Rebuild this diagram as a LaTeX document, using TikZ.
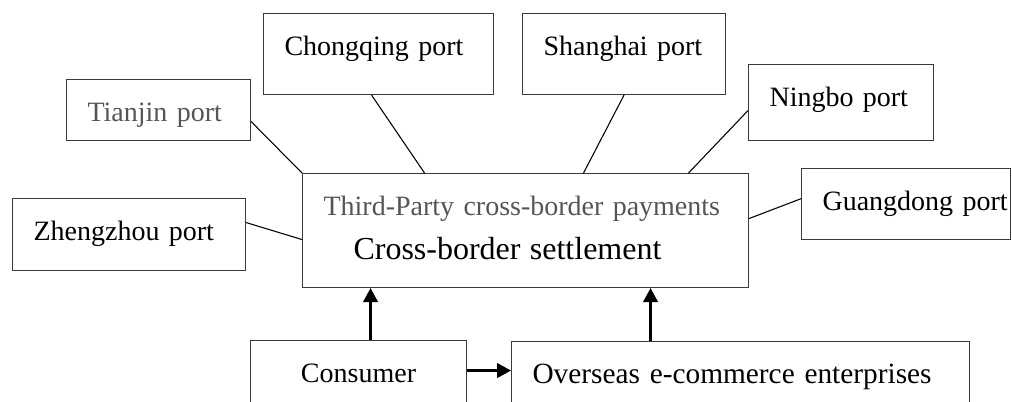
\documentclass[tikz,border=0pt]{standalone}
\usepackage{fontspec}
\setmainfont{Liberation Serif}
\usepackage{xcolor}
\usepackage{tikz}
\usetikzlibrary{arrows.meta,calc,positioning}
\definecolor{boxline}{HTML}{3A3A3A}
\definecolor{softtext}{HTML}{555555}
\tikzset{%
	portbox/.style = {draw=boxline, line width=0.8pt, anchor=north west, inner xsep=15.75pt, inner ysep=0pt, align=left, text height=31.5pt, font=\fontsize{21}{25}\selectfont},
	link/.style    = {line width=0.8pt, black},
	arrow/.style   = {line width=1.6pt, -{Triangle[length=10.5pt,width=11pt]}},
}
\begin{document}
\begin{tikzpicture}[x=0.75pt,y=-0.75pt]
	\clip (0,0) rectangle (1012,401);  % page frame
	
	\node[portbox, text width=106.5pt, text depth=14.25pt] (tianjin) at (66,79) {\color{softtext}Tianjin port};
	\node[portbox, text width=143.25pt, text depth=22.5pt] (zhengzhou) at (12,198) {Zhengzhou port};
	\node[portbox, text width=141pt, text depth=29.25pt] (chongqing) at (263,13) {Chongqing port};
	\node[portbox, text width=120.75pt, text depth=29.25pt] (shanghai) at (522,13) {Shanghai port};
	\node[portbox, text width=107.25pt, text depth=25.5pt] (ningbo) at (748,64) {Ningbo port};
	\node[portbox, text width=125.25pt, text depth=21.75pt] (guangdong) at (801,168) {\mbox{Guangdong port}};
	
	\node[portbox, text width=303pt, text depth=54pt] (central) at (302,173)
		{{\color{softtext}Third-Party cross-border payments}\\[8pt]
		 \fontsize{24}{33}\selectfont\hspace*{22.5pt}Cross-border settlement};
	
	\node[portbox, align=center, text width=130.5pt, text depth=28.5pt] (consumer) at (250,340) {Consumer};
	\node[portbox, text width=312pt, text depth=28.5pt, font=\fontsize{22}{26}\selectfont] (overseas) at (511,341) {Overseas e-commerce enterprises};
	
	% ports to settlement
	\draw[link] ([yshift=-8.6pt]tianjin.east) -- (central.north west);
	\draw[link] ([yshift=9pt]zhengzhou.east) -- ([yshift=-6.75pt]central.west);
	\draw[link] ([xshift=-5.25pt]chongqing.south) -- ([xshift=-75.75pt]central.north);
	\draw[link] (shanghai.south) -- ([xshift=43.5pt]central.north);
	\draw[link] ([yshift=-6pt]ningbo.west) -- ([xshift=122.25pt]central.north);
	\draw[link] ([yshift=4pt]guangdong.west) -- ([yshift=9pt]central.east);
	
	% payment flows
	\coordinate (cup) at ([xshift=9pt]consumer.north);
	\coordinate (oup) at ([xshift=-67.5pt]overseas.north);
	\coordinate (cright) at ([yshift=7.5pt]consumer.east);
	\draw[arrow] (cup) -- (cup |- central.south);
	\draw[arrow] (oup) -- (oup |- central.south);
	\draw[arrow] (cright) -- (cright -| overseas.west);
	
\end{tikzpicture}
\end{document}
